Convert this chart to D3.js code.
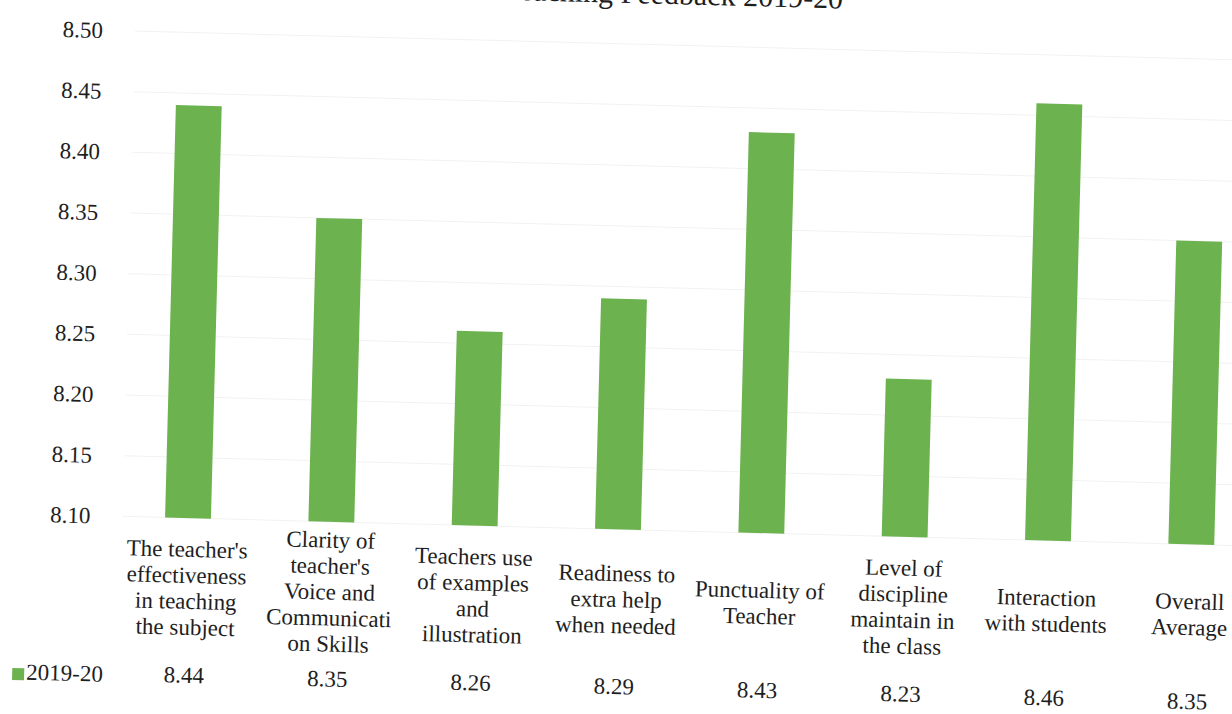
<!DOCTYPE html>
<html>
<head>
<meta charset="utf-8">
<script src="https://cdn.jsdelivr.net/npm/d3@7"></script>
<style>
  html, body { margin: 0; padding: 0; background: #fff; }
  svg { display: block; }
  text { font-family: "Liberation Serif", "Times New Roman", serif; fill: #1e1e1e; }
</style>
</head>
<body>
<svg id="chart" width="1232" height="714"></svg>
<script>
// ---- data ----
const categories = [
  ["The teacher's", "effectiveness", "in teaching", "the subject"],
  ["Clarity of", "teacher's", "Voice and", "Communicati", "on Skills"],
  ["Teachers use", "of examples", "and", "illustration"],
  ["Readiness to", "extra help", "when needed"],
  ["Punctuality of", "Teacher"],
  ["Level of", "discipline", "maintain in", "the class"],
  ["Interaction", "with students"],
  ["Overall", "Average"]
];
const values = [8.44, 8.35, 8.26, 8.29, 8.43, 8.23, 8.46, 8.35];
const valueLabels = ["8.44", "8.35", "8.26", "8.29", "8.43", "8.23", "8.46", "8.35"];
const yTicks = [8.10, 8.15, 8.20, 8.25, 8.30, 8.35, 8.40, 8.45, 8.50];
const seriesName = "2019-20";
const title = "Teaching Feedback 2019-20";

// ---- layout ----
const svg = d3.select("#chart");
const g = svg.append("g").attr("transform", "rotate(1.5,130,300)");

const ids = categories.map((c, i) => i);
const x = d3.scaleBand().domain(ids).range([122, 1269])
  .paddingInner(0.68).paddingOuter(0.34);
const y = d3.scaleLinear().domain([8.10, 8.50]).range([516.5, 31]);

// title (cut off at the top, as in the source)
g.append("text").attr("x", 835).attr("y", -10)
  .attr("text-anchor", "end").style("font-size", "30px").text(title);

// gridlines
g.append("g").selectAll("line").data(yTicks).join("line")
  .attr("x1", 128).attr("x2", 1300)
  .attr("y1", d => y(d)).attr("y2", d => y(d))
  .attr("stroke", "#f2f2f2").attr("stroke-width", 1);

// y axis labels
const yAxis = d3.axisLeft(y).tickValues(yTicks).tickFormat(d3.format(".2f")).tickSize(0).tickPadding(0);
const ya = g.append("g").attr("transform", "translate(96,0)").call(yAxis);
ya.select(".domain").remove();
ya.selectAll("text").style("font-size", "23px").style("font-family", "'Liberation Serif', serif").attr("fill", "#1e1e1e");

// bars
g.append("g").selectAll("rect").data(values).join("rect")
  .attr("x", (d, i) => x(i)).attr("width", x.bandwidth())
  .attr("y", d => y(d)).attr("height", d => y(8.10) - y(d))
  .attr("fill", "#6cb24f");

// category labels (data table header)
const lh = 26;
const catG = g.append("g").selectAll("text").data(categories).join("text")
  .attr("text-anchor", "middle").style("font-size", "23px");
catG.each(function(lines, i) {
  const t = d3.select(this);
  const cx = x(i) + x.bandwidth() / 2;
  const top = 589 - (lines.length - 1) * lh / 2;
  lines.forEach((ln, k) => {
    t.append("tspan").attr("x", cx).attr("y", top + k * lh)
      .attr("dominant-baseline", "middle").text(ln);
  });
});

// values row
g.append("g").selectAll("text").data(valueLabels).join("text")
  .attr("x", (d, i) => x(i) + x.bandwidth() / 2).attr("y", 676)
  .attr("text-anchor", "middle").attr("dominant-baseline", "middle")
  .style("font-size", "23px").text(d => d);

// legend key
g.append("rect").attr("x", 22).attr("y", 671).attr("width", 12).attr("height", 12).attr("fill", "#6cb24f");
g.append("text").attr("x", 36).attr("y", 677).attr("dominant-baseline", "middle")
  .style("font-size", "23px").text(seriesName);
</script>
</body>
</html>
